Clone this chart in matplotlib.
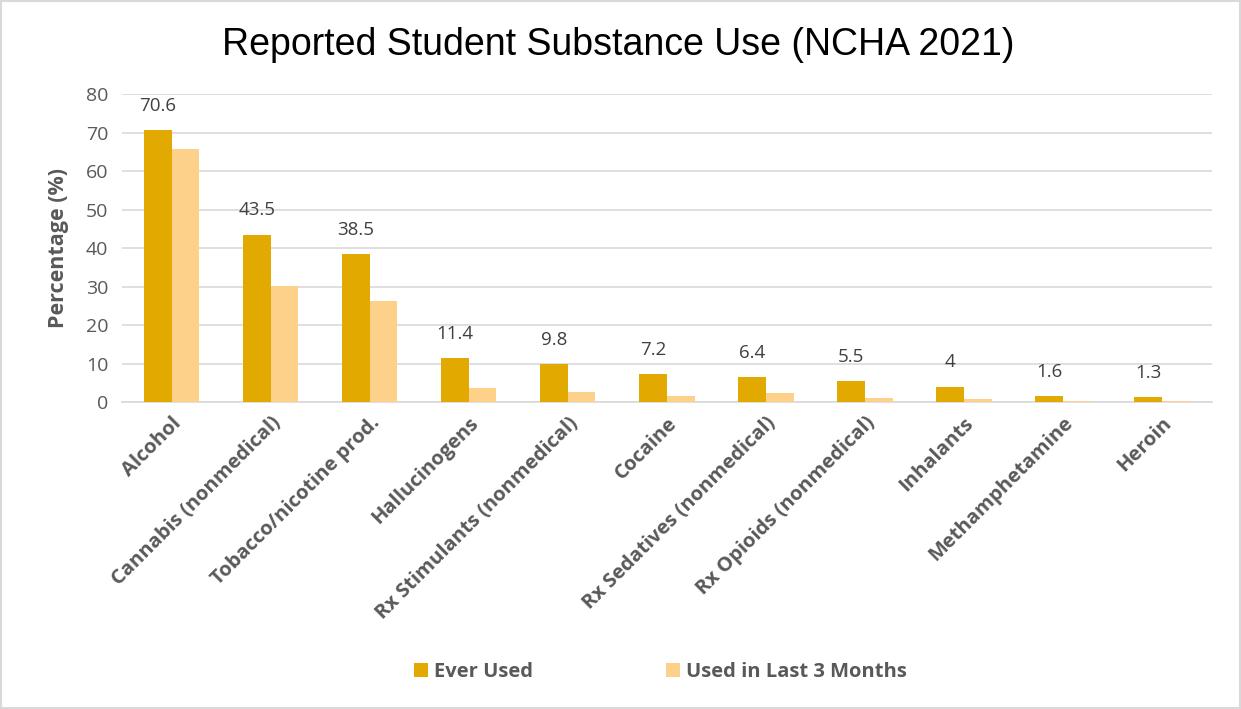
import matplotlib
matplotlib.use('Agg')
import matplotlib.pyplot as plt
import numpy as np
from matplotlib.patches import Rectangle

# ---------------------------------------------------------------------------
# Data (NCHA 2021)
# ---------------------------------------------------------------------------
substances = [
    'Alcohol', 'Cannabis (nonmedical)', 'Tobacco/nicotine prod.', 'Hallucinogens',
    'Rx Stimulants (nonmedical)', 'Cocaine', 'Rx Sedatives (nonmedical)',
    'Rx Opioids (nonmedical)', 'Inhalants', 'Methamphetamine', 'Heroin',
]
ever_used = [70.6, 43.5, 38.5, 11.4, 9.8, 7.2, 6.4, 5.5, 4, 1.6, 1.3]
last_3_months = [65.9, 30.1, 26.3, 3.6, 2.7, 1.6, 2.4, 1.0, 0.9, 0.3, 0.2]
series_names = ['Ever Used', 'Used in Last 3 Months']
y_ticks = [0, 10, 20, 30, 40, 50, 60, 70, 80]

DARK = '#E2AA00'
LIGHT = '#FED18A'
GRID = '#D9D9D9'
TEXT = '#595959'
LABEL = '#404040'
FONT = 'Open Sans'

fig = plt.figure(figsize=(12.41, 7.09), dpi=100)
fig.patch.set_facecolor('white')
fig.patches.append(Rectangle((0.001, 0.001), 0.998, 0.997, transform=fig.transFigure,
                             fill=False, edgecolor=GRID, linewidth=1.5))

ax = fig.add_axes([0.0983, 0.433, 0.878, 0.434])
x = np.arange(len(substances))
w = 0.28
b1 = ax.bar(x - w / 2, ever_used, w, color=DARK, label=series_names[0], zorder=3)
b2 = ax.bar(x + w / 2, last_3_months, w, color=LIGHT, label=series_names[1], zorder=3)

for bar, val in zip(b1, ever_used):
    ax.annotate(f'{val:g}', (bar.get_x() + bar.get_width() / 2, bar.get_height()),
                xytext=(0, 11), textcoords='offset points', ha='center', va='bottom',
                fontsize=13.5, color=LABEL, family=FONT)

ax.set_xlim(-0.5, len(substances) - 0.5)
ax.set_ylim(0, 80)
ax.set_yticks(y_ticks)
ax.set_yticklabels([str(t) for t in y_ticks], fontsize=14, color=TEXT, family=FONT)
ax.set_xticks(x)
ax.set_xticklabels(substances, rotation=45, ha='right', rotation_mode='anchor',
                   fontsize=14.5, fontweight='bold', color=TEXT, family=FONT)
ax.tick_params(length=0, pad=10)
ax.tick_params(axis='x', pad=8)

ax.set_ylabel('Percentage (%)', fontsize=15.5, fontweight='bold', color=TEXT,
              family=FONT, labelpad=12)
ax.yaxis.grid(True, color=GRID, linewidth=1.2, zorder=0)
ax.set_axisbelow(True)
for s in ['top', 'right', 'left']:
    ax.spines[s].set_visible(False)
ax.spines['bottom'].set_color(GRID)
ax.spines['bottom'].set_linewidth(1.2)

fig.suptitle('Reported Student Substance Use (NCHA 2021)', x=0.498, y=0.962,
             fontsize=27, family='Liberation Sans', color='black')

fig.legend(handles=[b1, b2], loc='center', bbox_to_anchor=(0.532, 0.052), ncol=2,
           frameon=False, handlelength=0.7, handleheight=0.7, handletextpad=0.3,
           columnspacing=6.6,
           prop={'family': FONT, 'size': 14.5, 'weight': 'bold'}, labelcolor=TEXT)

fig.savefig('out.png', dpi=100, facecolor='white')
